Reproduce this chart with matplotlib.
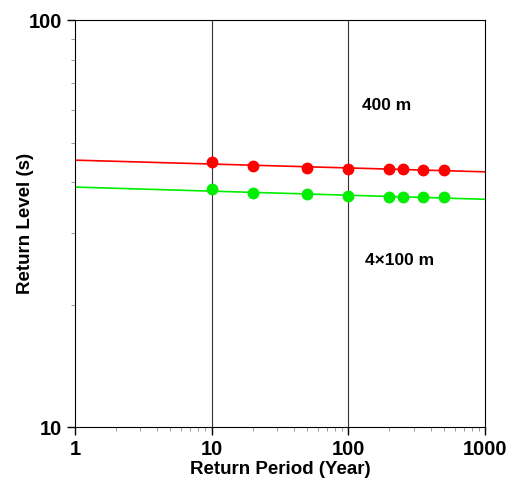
import matplotlib.pyplot as plt
import matplotlib.ticker as mticker
import numpy as np

plt.rcParams['font.family'] = ['Liberation Sans', 'DejaVu Sans']
plt.rcParams['font.weight'] = 'bold'

# return periods (years) of the plotted points
periods = [10, 20, 50, 100, 200, 250, 350, 500]
level_400 = [44.7, 43.9, 43.4, 43.0, 43.0, 43.0, 42.9, 42.9]
level_4x100 = [38.4, 37.7, 37.4, 37.0, 36.8, 36.8, 36.8, 36.8]
# fitted lines, end points at 1 and 1000 years
fit_x = [1, 1000]
fit_400 = [45.3, 42.4]
fit_4x100 = [38.9, 36.3]

fig = plt.figure(figsize=(5.09, 4.8), dpi=100)
ax = fig.add_axes([0.147, 0.110, 0.806, 0.848])

ax.plot(fit_x, fit_400, color='red', linewidth=1.2)
ax.plot(fit_x, fit_4x100, color='#00ee00', linewidth=1.2)
ax.plot(periods, level_400, 'o', color='red', markersize=7.5)
ax.plot(periods, level_4x100, 'o', color='#00ee00', markersize=7.5)

ax.set_xscale('log')
ax.set_yscale('log')
ax.set_xlim(1, 1000)
ax.set_ylim(10, 100)

ax.xaxis.set_major_locator(mticker.FixedLocator([1, 10, 100, 1000]))
ax.xaxis.set_major_formatter(mticker.FixedFormatter(['1', '10', '100', '1000']))
ax.yaxis.set_major_locator(mticker.FixedLocator([10, 100]))
ax.yaxis.set_major_formatter(mticker.FixedFormatter(['10', '100']))
ax.xaxis.set_minor_formatter(mticker.NullFormatter())
ax.yaxis.set_minor_formatter(mticker.NullFormatter())

for xv in [10, 100]:
    ax.axvline(xv, color='#333333', linewidth=0.8, zorder=0)

ax.tick_params(which='major', direction='out', length=6, width=1, labelsize=14.5)
ax.tick_params(which='minor', direction='out', length=3, width=0.6, color='#888888')
for lab in ax.get_xticklabels() + ax.get_yticklabels():
    lab.set_fontweight('bold')

ax.set_xlabel('Return Period (Year)', fontsize=13.5, fontweight='bold', labelpad=1.5)
ax.set_ylabel('Return Level (s)', fontsize=13.5, fontweight='bold', labelpad=-4)

ax.text(126, 61.8, '400 m', fontsize=12.5, fontweight='bold', ha='left', va='center')
ax.text(132, 25.7, '4×100 m', fontsize=12.5, fontweight='bold', ha='left', va='center')

plt.savefig('out.png', dpi=100)
